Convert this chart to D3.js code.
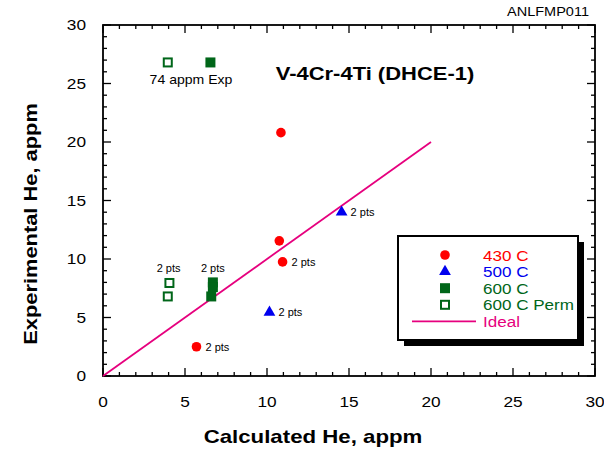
<!DOCTYPE html>
<html><head><meta charset="utf-8">
<script src="https://cdn.jsdelivr.net/npm/d3@7"></script>
<style>body{margin:0;background:#fff}svg{display:block;font-family:Arial,"Liberation Sans",sans-serif}</style>
</head><body><svg id="c" width="604" height="451"></svg>
<script>
const xTicks = [0,5,10,15,20,25,30];
const yTicks = [0,5,10,15,20,25,30];
const s430 = [[10.85,20.8],[10.75,11.55],[10.95,9.75],[5.7,2.5]];
const s500 = [[14.55,14.0],[10.15,5.45]];
const s600 = [[6.55,26.8],[6.7,8.0],[6.7,7.6],[6.6,6.8]];
const s600p = [[3.95,26.8],[4.05,7.95],[3.95,6.8]];
const ideal = [[0,0],[20,20]];
const notes = [
  {x:10.95,y:9.75,t:"2 pts",pos:"r"},{x:5.7,y:2.5,t:"2 pts",pos:"r"},
  {x:14.55,y:14.0,t:"2 pts",pos:"r"},{x:10.15,y:5.45,t:"2 pts",pos:"r"},
  {x:4.0,y:8.0,t:"2 pts",pos:"a"},{x:6.7,y:8.0,t:"2 pts",pos:"a"}
];
const legendItems = [
  {label:"430 C",color:"#ff0000",type:"circle"},
  {label:"500 C",color:"#0000ee",type:"tri"},
  {label:"600 C",color:"#006619",type:"sq"},
  {label:"600 C Perm",color:"#006619",type:"osq"},
  {label:"Ideal",color:"#e6007e",type:"line"}
];
const svg = d3.select("#c");
const L=103,R=595,T=25,B=376;
const x = d3.scaleLinear().domain([0,30]).range([L,R]);
const y = d3.scaleLinear().domain([0,30]).range([B,T]);
const minor = d3.range(0,31,1);
function stretch(sel,f){sel.each(function(){const w=this.getComputedTextLength();this.setAttribute("textLength",w*f);this.setAttribute("lengthAdjust","spacingAndGlyphs");});return sel;}
const g = svg.append("g");
const tk = g.append("g").attr("stroke","#000").attr("stroke-width",1.3);
minor.forEach(v=>{
  const len = v%5===0?8:4;
  tk.append("line").attr("x1",x(v)).attr("x2",x(v)).attr("y1",B).attr("y2",B-len);
  tk.append("line").attr("x1",x(v)).attr("x2",x(v)).attr("y1",T).attr("y2",T+len);
  tk.append("line").attr("y1",y(v)).attr("y2",y(v)).attr("x1",L).attr("x2",L+len);
  tk.append("line").attr("y1",y(v)).attr("y2",y(v)).attr("x1",R).attr("x2",R-len);
});
g.append("rect").attr("x",L).attr("y",T).attr("width",R-L).attr("height",B-T).attr("fill","none").attr("stroke","#000").attr("stroke-width",1.8);
stretch(g.selectAll(".xl").data(xTicks).enter().append("text").attr("x",d=>x(d)).attr("y",B+31).attr("text-anchor","middle").attr("font-size",15).text(d=>d),1.15);
stretch(g.selectAll(".yl").data(yTicks).enter().append("text").attr("x",L-17).attr("y",d=>y(d)+5).attr("text-anchor","end").attr("font-size",15).text(d=>d),1.15);
stretch(svg.append("text").attr("x",313).attr("y",443).attr("text-anchor","middle").attr("font-size",19).attr("font-weight","bold").text("Calculated He, appm"),1.17);
stretch(svg.append("text").attr("transform",`translate(37,224) rotate(-90)`).attr("text-anchor","middle").attr("font-size",19).attr("font-weight","bold").text("Experimental He, appm"),1.15);
const an = svg.append("text").attr("x",589).attr("y",16).attr("text-anchor","end").attr("font-size",12).text("ANLFMP011");
an.attr("textLength",82).attr("lengthAdjust","spacingAndGlyphs");
stretch(svg.append("text").attr("x",375).attr("y",80).attr("text-anchor","middle").attr("font-size",18).attr("font-weight","bold").text("V-4Cr-4Ti (DHCE-1)"),1.22);
stretch(svg.append("text").attr("x",191).attr("y",84).attr("text-anchor","middle").attr("font-size",13).text("74 appm Exp"),1.08);
const line = d3.line().x(d=>x(d[0])).y(d=>y(d[1]));
svg.append("path").datum(ideal).attr("d",line).attr("fill","none").attr("stroke","#e6007e").attr("stroke-width",1.8);
function marker(sel,type,color){
  if(type==="circle") sel.append("circle").attr("r",4.8).attr("fill",color);
  else if(type==="tri") sel.append("path").attr("d",d3.symbol(d3.symbolTriangle,60)()).attr("fill",color);
  else if(type==="sq") sel.append("rect").attr("x",-5).attr("y",-5).attr("width",10).attr("height",10).attr("fill",color);
  else if(type==="osq") sel.append("rect").attr("x",-4).attr("y",-4).attr("width",8).attr("height",8).attr("fill","#fff").attr("stroke",color).attr("stroke-width",2);
}
[[s430,"circle","#ff0000"],[s500,"tri","#0000ee"],[s600,"sq","#006619"],[s600p,"osq","#006619"]].forEach(([data,type,color])=>{
  data.forEach(d=>{const gg=svg.append("g").attr("transform",`translate(${x(d[0])},${y(d[1])})`);marker(gg,type,color);});
});
notes.forEach(n=>{
  if(n.pos==="r") svg.append("text").attr("x",x(n.x)+9).attr("y",y(n.y)+4).attr("font-size",11).text(n.t);
  else svg.append("text").attr("x",x(n.x)).attr("y",y(n.y)-10).attr("text-anchor","middle").attr("font-size",11).text(n.t);
});
const lx=398,ly=236,lw=180,lh=104;
svg.append("rect").attr("x",lx+6).attr("y",ly+6).attr("width",lw).attr("height",lh).attr("fill","#000");
svg.append("rect").attr("x",lx).attr("y",ly).attr("width",lw).attr("height",lh).attr("fill","#fff").attr("stroke","#000").attr("stroke-width",2);
legendItems.forEach((it,i)=>{
  const yy = ly+19+i*16.6;
  if(it.type==="line") svg.append("line").attr("x1",412).attr("x2",476).attr("y1",yy).attr("y2",yy).attr("stroke",it.color).attr("stroke-width",1.8);
  else marker(svg.append("g").attr("transform",`translate(445,${yy})`),it.type,it.color);
  stretch(svg.append("text").attr("x",483).attr("y",yy+5.5).attr("font-size",15.5).attr("fill",it.color).text(it.label),1.1);
});
</script></body></html>
